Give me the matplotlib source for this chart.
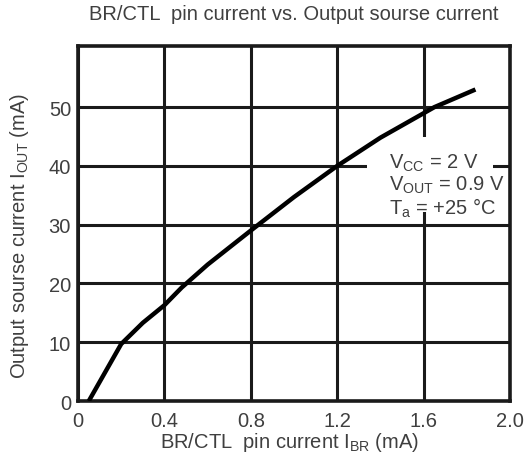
import matplotlib
matplotlib.use("Agg")
import matplotlib.pyplot as plt
from matplotlib.patches import Rectangle

plt.rcParams['font.family'] = ['Liberation Sans', 'DejaVu Sans']
plt.rcParams['mathtext.fontset'] = 'custom'
plt.rcParams['mathtext.rm'] = 'Liberation Sans'
plt.rcParams['mathtext.it'] = 'Liberation Sans'

# Data
ibr_ma = [0.05, 0.2, 0.3, 0.4, 0.48, 0.6, 0.8, 1.0, 1.2, 1.4, 1.65, 1.84]
iout_ma = [0, 9.7, 13.3, 16.3, 19.3, 23.2, 29.0, 34.7, 40, 44.8, 50, 53]

x_ticks = [0, 0.4, 0.8, 1.2, 1.6, 2.0]
x_tick_labels = ["0", "0.4", "0.8", "1.2", "1.6", "2.0"]
y_ticks = [0, 10, 20, 30, 40, 50]
y_tick_labels = ["0", "10", "20", "30", "40", "50"]

title = "BR/CTL  pin current vs. Output sourse current"
xlabel = r"BR/CTL  pin current I$_{\mathrm{BR}}$ (mA)"
ylabel = r"Output sourse current I$_{\mathrm{OUT}}$ (mA)"
cond_lines = [r"V$_{\mathrm{CC}}$ = 2 V", r"V$_{\mathrm{OUT}}$ = 0.9 V", r"T$_{\mathrm{a}}$ = +25 °C"]
cond_y = [40.6, 36.9, 33.0]

TXT = '#3f3f3f'
fig = plt.figure(figsize=(5.31, 4.77), dpi=100)
ax = fig.add_axes([78/531, 1-402/477, (510-78)/531, (402-47)/477])

ax.set_xlim(0, 2.0)
ax.set_ylim(0, 60.4)
ax.set_xticks(x_ticks)
ax.set_xticklabels(x_tick_labels)
ax.set_yticks(y_ticks)
ax.set_yticklabels(y_tick_labels)
ax.tick_params(length=0, labelsize=14.5, colors=TXT)
ax.tick_params(axis='x', pad=7)
ax.tick_params(axis='y', pad=5)

ax.grid(True, color='#1a1a1a', linewidth=2.2)
ax.set_axisbelow(True)
for s in ax.spines.values():
    s.set_linewidth(2.6)
    s.set_color('#1a1a1a')

# white area behind the conditions text (covers grid, not the curve)
ax.add_patch(Rectangle((1.338, 32.1), 0.583, 12.8, facecolor='white',
                       edgecolor='none', zorder=2))
ax.plot(ibr_ma, iout_ma, color='black', linewidth=3.2, solid_capstyle='butt', zorder=5)

for line, yv in zip(cond_lines, cond_y):
    ax.text(1.44, yv, line, fontsize=14.5, color=TXT, va='center', ha='left', zorder=6)

fig.text(294/531, 1-15/477, title, ha='center', va='center', fontsize=14.5, color=TXT)
fig.text(290/531, 1-442/477, xlabel, ha='center', va='center', fontsize=14.5, color=TXT)
fig.text(20/531, 1-236/477, ylabel, ha='center', va='center', rotation=90, fontsize=14.5, color=TXT)

fig.savefig("out.png", dpi=100, facecolor='white')
